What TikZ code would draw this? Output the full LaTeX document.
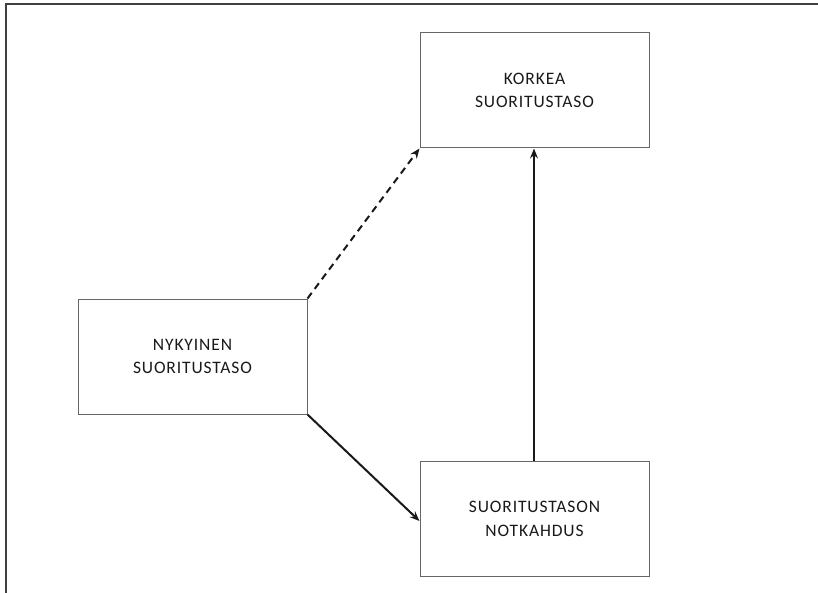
\documentclass[tikz,border=0pt]{standalone}
\usepackage{fontspec}
\setmainfont{Carlito}[LetterSpace=5]
\usetikzlibrary{arrows.meta}
\begin{document}
\begin{tikzpicture}[x=1pt,y=-1pt,
  level/.style={draw=black!60, line width=1pt, minimum width=229pt, minimum height=115pt,
    align=center, font=\fontsize{17.5}{23.5}\selectfont, text=black!90, inner sep=0pt},
  link/.style={line width=2pt, draw=black!90, -{Stealth[length=10pt,width=8pt,inset=3.5pt]}},
  frameline/.style={draw=black!75, line width=1.3pt}]
\useasboundingbox (0,0) rectangle (818,593);
% outer frame: top edge and left edge
\coordinate (fa) at (818,4);
\coordinate (fb) at (6,4);
\coordinate (fc) at (6,593);
\draw[frameline] (fa) -- (fb) -- (fc);
% the three performance levels
\node[level] (high) at (534.5,90.5) {KORKEA\\SUORITUSTASO};
\node[level] (now) at (192.5,356.5) {NYKYINEN\\SUORITUSTASO};
\node[level] (dip) at (534.5,519) {SUORITUSTASON\\NOTKAHDUS};
% transitions
\draw[link, dash pattern=on 7pt off 5pt] (now.north east) -- (high.south west);
\draw[link] (now.south east) -- ([yshift=-2pt]dip.west);
\draw[link] ([xshift=-0.5pt]dip.north) -- ([xshift=-0.5pt]high.south);
\end{tikzpicture}
\end{document}
